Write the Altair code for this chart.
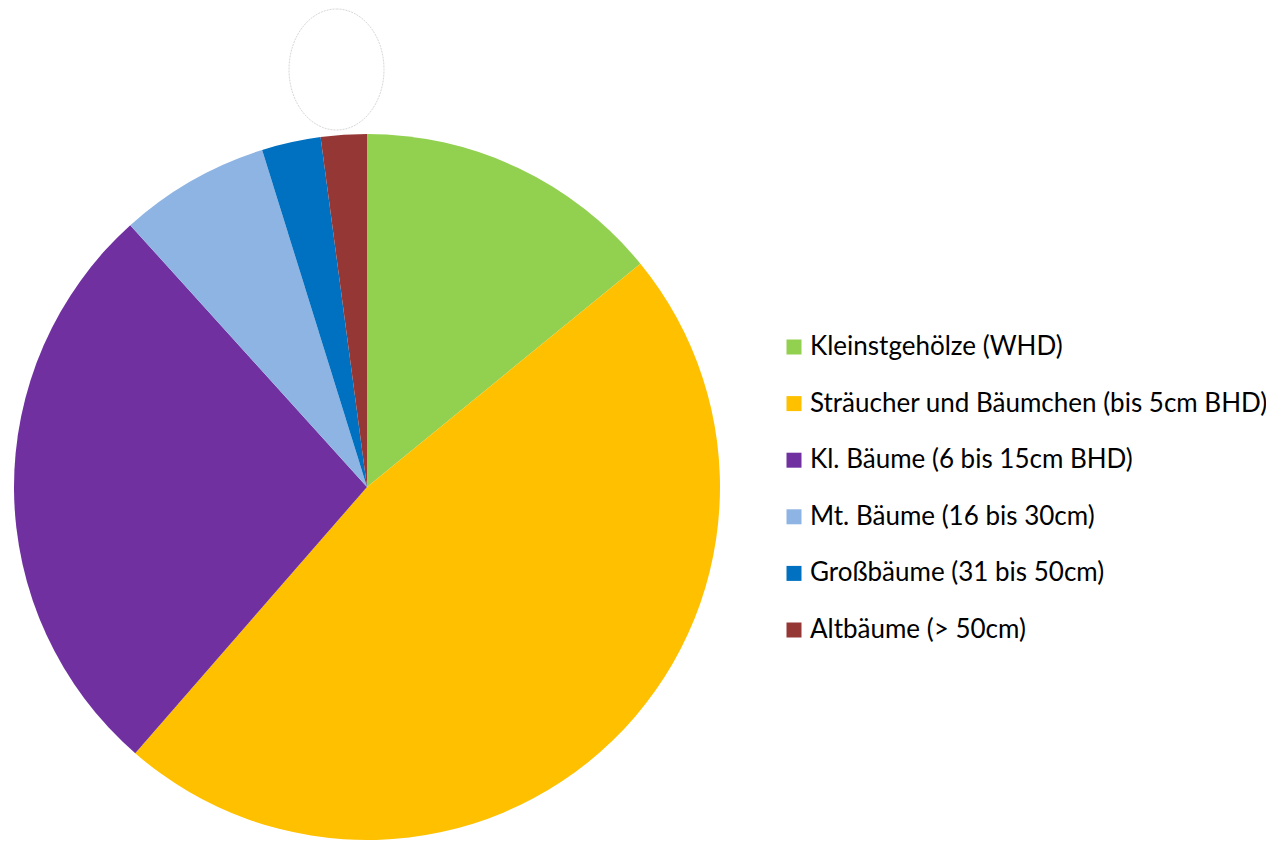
import altair as alt
import pandas as pd

categories = [
    "Kleinstgehölze (WHD)",
    "Sträucher und Bäumchen (bis 5cm BHD)",
    "Kl. Bäume (6 bis 15cm BHD)",
    "Mt. Bäume (16 bis 30cm)",
    "Großbäume (31 bis 50cm)",
    "Altbäume (> 50cm)",
]
shares = [14.1, 47.3, 26.9, 6.9, 2.7, 2.1]
colors = ["#92D050", "#FFC000", "#7030A0", "#8EB4E3", "#0070C0", "#953735"]

df = pd.DataFrame({"cat": categories, "val": shares, "ord": list(range(len(categories)))})

pie = alt.Chart(df).mark_arc(outerRadius=353, stroke=None).encode(
    theta=alt.Theta("val:Q", stack=True),
    order=alt.Order("ord:Q"),
    color=alt.Color(
        "cat:N",
        sort=categories,
        scale=alt.Scale(domain=categories, range=colors),
        legend=alt.Legend(
            title=None,
            orient="none",
            legendX=773,
            legendY=326,
            symbolType="square",
            symbolSize=225,
            symbolStrokeWidth=0,
            labelFont="Lato",
            labelFontSize=26,
            labelColor="#000000",
            labelLimit=600,
            labelOffset=3,
            rowPadding=30.6,
        ),
    ),
    x=alt.value(359),
    y=alt.value(479),
)

ell = alt.Chart(pd.DataFrame({"e": [1]})).mark_point(
    shape="M0,-1A0.785,1 0 1,1 0,1A0.785,1 0 1,1 0,-1Z",
    size=14641,
    filled=False,
    stroke="#c8c8c8",
    strokeWidth=1,
    strokeDash=[2, 1],
).encode(x=alt.value(328.5), y=alt.value(61.5))

chart = alt.layer(pie, ell).properties(
    width=1258, height=833, padding=0, autosize=alt.AutoSizeParams(type="none")
).configure_view(stroke=None)

chart.save("out.html", embed_options={"renderer": "svg", "actions": False})
